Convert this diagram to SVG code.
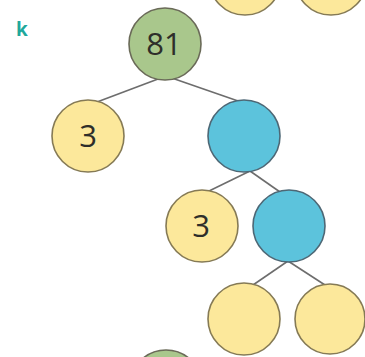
<svg xmlns="http://www.w3.org/2000/svg" width="365" height="357" viewBox="0 0 365 357">
<style>
.y{fill:#fce89b;stroke:#857a55;stroke-width:1.6}
.g{fill:#a9c78c;stroke:#6a6a58;stroke-width:1.6}
.b{fill:#5cc3dc;stroke:#4d6775;stroke-width:1.6}
.e{stroke:#6d6d6d;stroke-width:1.6;fill:none}
.t{font-family:"Open Sans","Noto Sans",sans-serif;font-size:31px;fill:#2e2e2a;text-anchor:middle}
.k{font-family:"Open Sans","Noto Sans",sans-serif;font-size:19px;font-weight:bold;fill:#1fa89c}
</style>
<rect width="365" height="357" fill="#ffffff"/>
<g id="connectors">
<line class="e" x1="166" y1="76" x2="97" y2="102"/>
<line class="e" x1="166" y1="76" x2="241" y2="102"/>
<line class="e" x1="250" y1="171" x2="207" y2="192"/>
<line class="e" x1="250" y1="171" x2="280" y2="192"/>
<line class="e" x1="288" y1="261" x2="253" y2="285"/>
<line class="e" x1="288" y1="261" x2="325" y2="285"/>
</g>
<g id="label-k"><text class="k" x="16" y="36">k</text></g>
<g id="top-partial-1"><circle class="y" cx="245" cy="-21" r="36"/></g>
<g id="top-partial-2"><circle class="y" cx="331" cy="-21" r="36"/></g>
<g id="n81"><circle class="g" cx="165" cy="44" r="36"/><text class="t" x="164" y="55">81</text></g>
<g id="n3a"><circle class="y" cx="88" cy="136" r="36"/><text class="t" x="88" y="147">3</text></g>
<g id="nb1"><circle class="b" cx="244" cy="136" r="36"/></g>
<g id="n3b"><circle class="y" cx="202" cy="226" r="36"/><text class="t" x="201" y="237">3</text></g>
<g id="nb2"><circle class="b" cx="289" cy="226" r="36"/></g>
<g id="ny1"><circle class="y" cx="244" cy="319" r="36"/></g>
<g id="ny2"><circle class="y" cx="330" cy="319" r="35"/></g>
<g id="bottom-partial"><circle class="g" cx="166" cy="386" r="36"/></g>
</svg>
